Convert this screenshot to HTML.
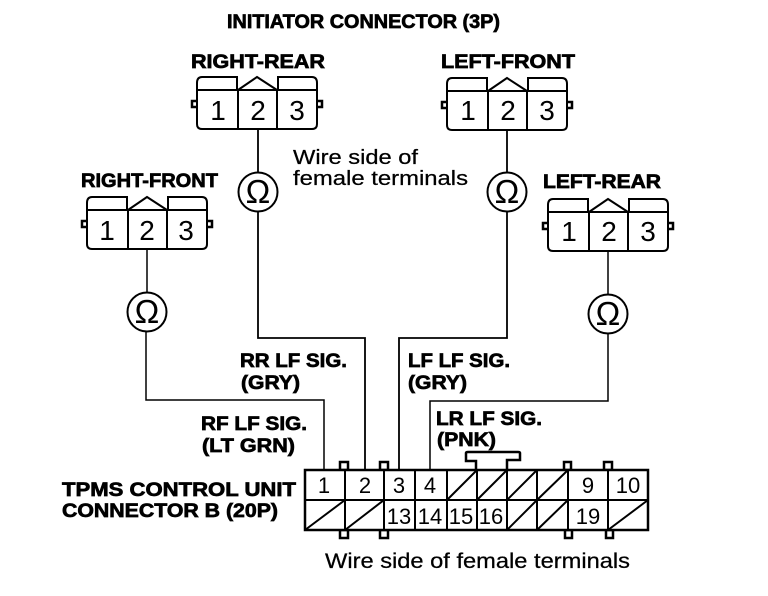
<!DOCTYPE html>
<html><head><meta charset="utf-8"><style>
html,body{margin:0;padding:0;background:#fff;width:768px;height:596px;overflow:hidden}
svg{display:block}
.b{font-family:"Liberation Sans",sans-serif;font-weight:bold;fill:#000;stroke:#000;stroke-width:.7px}
.n{font-family:"Liberation Sans",sans-serif;fill:#000;font-size:20px;stroke:#000;stroke-width:.25px}
.d{font-family:"Liberation Sans",sans-serif;fill:#000;text-anchor:middle;font-size:28px}
.c{font-family:"Liberation Sans",sans-serif;fill:#000;text-anchor:middle;font-size:22px}
</style></head><body>
<svg width="768" height="596" viewBox="0 0 768 596" xmlns="http://www.w3.org/2000/svg">
<defs>
<g id="conn" fill="none" stroke="#000" stroke-width="2">
<path d="M0 14V7Q0 1 5 1H40V14"/>
<path d="M81 14V1H115Q120 1 120 7V14"/>
<path d="M0 14V48Q0 53 5 53H115Q120 53 120 48V14H0"/>
<path d="M41 14L60 1L80 14"/>
<path d="M41 14V53M80 14V53"/>
<path d="M0 25H-5V31H0M120 25H125V31H120" stroke-width="2.5"/>
</g>
<g id="ohm">
<circle r="19.5" fill="#fff" stroke="#000" stroke-width="2"/>
<text y="11" text-anchor="middle" font-family="'Liberation Sans',sans-serif" font-size="33" fill="#000">Ω</text>
</g>
</defs>

<!-- wires -->
<g fill="none" stroke="#000" stroke-width="2">
<path d="M258 129V172M258 212V338H365V470" stroke-width="1.8"/>
<path d="M507 130V172M507 212V338H399V470" stroke-width="1.8"/>
<path d="M147 249V292M146 332V400H324V470" stroke-width="1.5"/>
<path d="M608 250V295M608 333V401H430V470" stroke-width="1.5"/>
</g>

<!-- connectors -->
<use href="#conn" x="197" y="76"/>
<use href="#conn" x="87" y="196"/>
<use href="#conn" x="447" y="77"/>
<use href="#conn" x="548" y="198"/>
<g class="d">
<text x="218" y="120">1</text><text x="258" y="120">2</text><text x="297" y="120">3</text>
<text x="107" y="240">1</text><text x="147" y="240">2</text><text x="186" y="240">3</text>
<text x="468" y="120">1</text><text x="508" y="120">2</text><text x="547" y="120">3</text>
<text x="569" y="241">1</text><text x="609" y="241">2</text><text x="648" y="241">3</text>
</g>

<use href="#ohm" x="258" y="192"/>
<use href="#ohm" x="507" y="192"/>
<use href="#ohm" x="147" y="312"/>
<use href="#ohm" x="608" y="314"/>

<!-- 20P connector -->
<g fill="#fff" stroke="#000" stroke-width="2.5">
<rect x="340" y="462" width="8" height="8"/>
<rect x="380" y="462" width="8" height="8"/>
<rect x="564" y="462" width="7" height="8"/>
<rect x="604" y="462" width="8" height="8"/>
<rect x="340" y="530" width="8" height="8"/>
<rect x="380" y="530" width="8" height="8"/>
<rect x="565" y="530" width="7" height="8"/>
<rect x="606" y="530" width="7" height="8"/>
<path d="M476 470V461H466V453Q466 452 468 452H518Q520 452 520 453V460H507V470" />
</g>
<g fill="none" stroke="#000" stroke-width="2.5">
<rect x="305" y="470" width="343" height="60" fill="#fff"/>
<path d="M305 500H648" stroke-width="2"/>
<path d="M345 470V530M384 470V530M415 470V530M447 470V530M477 470V530M507 470V530M537 470V530M568 470V530M608 470V530" stroke-width="2"/>
<path d="M305 530L345 500M345 530L384 500M447 500L477 470M477 500L507 470M507 500L537 470M537 500L568 470M507 530L537 500M537 530L568 500M608 530L648 500" stroke-width="2"/>
</g>
<g class="c">
<text x="324" y="493">1</text><text x="365" y="493">2</text><text x="399" y="493">3</text><text x="430" y="493">4</text>
<text x="588" y="493">9</text><text x="628" y="493">10</text>
<text x="399" y="524">13</text><text x="430" y="524">14</text><text x="461" y="524">15</text><text x="491" y="524">16</text><text x="588" y="524">19</text>
</g>

<!-- labels -->
<g class="b">
<text x="227" y="28" font-size="19" textLength="273" lengthAdjust="spacingAndGlyphs">INITIATOR CONNECTOR (3P)</text>
<text x="191" y="68" font-size="19" textLength="134" lengthAdjust="spacingAndGlyphs">RIGHT-REAR</text>
<text x="441" y="68" font-size="19" textLength="134" lengthAdjust="spacingAndGlyphs">LEFT-FRONT</text>
<text x="81" y="187" font-size="19" textLength="137" lengthAdjust="spacingAndGlyphs">RIGHT-FRONT</text>
<text x="543" y="188" font-size="19" textLength="118" lengthAdjust="spacingAndGlyphs">LEFT-REAR</text>
<text x="240" y="367" font-size="19" textLength="107" lengthAdjust="spacingAndGlyphs">RR LF SIG.</text>
<text x="241" y="389" font-size="19" textLength="59" lengthAdjust="spacingAndGlyphs">(GRY)</text>
<text x="408" y="367" font-size="19" textLength="102" lengthAdjust="spacingAndGlyphs">LF LF SIG.</text>
<text x="408" y="389" font-size="19" textLength="59" lengthAdjust="spacingAndGlyphs">(GRY)</text>
<text x="436" y="425" font-size="19" textLength="106" lengthAdjust="spacingAndGlyphs">LR LF SIG.</text>
<text x="437" y="446" font-size="19" textLength="59" lengthAdjust="spacingAndGlyphs">(PNK)</text>
<text x="201" y="430" font-size="19" textLength="106" lengthAdjust="spacingAndGlyphs">RF LF SIG.</text>
<text x="202" y="452" font-size="19" textLength="93" lengthAdjust="spacingAndGlyphs">(LT GRN)</text>
<text x="62" y="496" font-size="19" textLength="234" lengthAdjust="spacingAndGlyphs">TPMS CONTROL UNIT</text>
<text x="62" y="517" font-size="19" textLength="216" lengthAdjust="spacingAndGlyphs">CONNECTOR B (20P)</text>
</g>
<g class="n">
<text x="293" y="164" textLength="125" lengthAdjust="spacingAndGlyphs">Wire side of</text>
<text x="293" y="185" textLength="175" lengthAdjust="spacingAndGlyphs">female terminals</text>
<text x="325" y="568" textLength="305" lengthAdjust="spacingAndGlyphs" font-size="21">Wire side of female terminals</text>
</g>
</svg>
</body></html>
